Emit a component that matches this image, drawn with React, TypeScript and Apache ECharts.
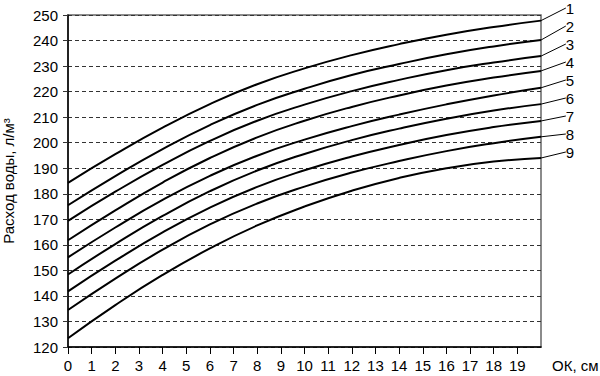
import React, { useEffect, useRef } from "react";
import * as echarts from "echarts";

const xValues = [0, 2, 4, 6, 8, 10, 12, 14, 16, 18, 20];
const curve1 = [184.3, 195.5, 205.9, 215.1, 222.9, 229.1, 234.3, 238.6, 242.3, 245.3, 247.8];
const curve2 = [175.5, 186.9, 197.5, 206.9, 214.8, 221.1, 226.5, 230.8, 234.6, 237.7, 240.2];
const curve3 = [169.4, 180.8, 191.3, 200.7, 208.6, 214.9, 220.2, 224.6, 228.4, 231.4, 233.9];
const curve4 = [161.8, 173.5, 184.4, 194.0, 202.1, 208.6, 214.0, 218.5, 222.4, 225.5, 228.1];
const curve5 = [155.1, 166.8, 177.6, 187.0, 194.9, 201.2, 206.5, 211.0, 215.0, 218.5, 221.5];
const curve6 = [148.4, 160.3, 171.3, 181.0, 189.1, 195.6, 201.0, 205.5, 209.4, 212.6, 215.1];
const curve7 = [141.8, 153.8, 164.9, 174.6, 182.7, 189.2, 194.6, 199.1, 203.0, 206.1, 208.5];
const curve8 = [134.5, 146.8, 158.1, 168.0, 176.2, 182.8, 188.3, 192.8, 196.7, 199.8, 202.3];
const curve9 = [123.4, 136.4, 148.2, 158.6, 167.6, 175.0, 181.2, 186.2, 190.0, 192.6, 194.0];
const curves = [curve1, curve2, curve3, curve4, curve5, curve6, curve7, curve8, curve9];
const curveNames = ["1", "2", "3", "4", "5", "6", "7", "8", "9"];
const xTicks = [0, 1, 2, 3, 4, 5, 6, 7, 8, 9, 10, 11, 12, 13, 14, 15, 16, 17, 18, 19];

const FONT = "'Liberation Sans', Arial, sans-serif";

export default function App() {
  const ref = useRef<HTMLDivElement>(null);
  useEffect(() => {
    if (!ref.current) return;
    const chart = echarts.init(ref.current, null, { renderer: "svg" });
    const last = xValues.length - 1;
    const series = curves.map((c, si) => ({
      type: "line",
      name: curveNames[si],
      smooth: true,
      showSymbol: true,
      symbol: "circle",
      symbolSize: 0.1,
      itemStyle: { color: "#000" },
      lineStyle: { color: "#000", width: 2 },
      label: { show: false },
      data: xValues.map((x, i) =>
        i === last
          ? {
              value: [x, c[i]],
              label: {
                show: true,
                formatter: curveNames[si],
                color: "#000",
                fontSize: 15,
                fontFamily: FONT,
              },
              labelLine: { show: true, lineStyle: { color: "#000", width: 1 } },
            }
          : { value: [x, c[i]] }
      ),
      labelLine: { show: true, lineStyle: { color: "#000", width: 1 } },
      labelLayout: (p: any) =>
        p.dataIndex === last
          ? { x: 570, y: 8 + 18 * si, align: "center", verticalAlign: "middle" }
          : {},
    }));
    chart.setOption({
      animation: false,
      grid: {
        left: 68,
        right: 59,
        top: 15,
        bottom: 29,
        show: true,
        borderColor: "#666",
        borderWidth: 1.5,
        containLabel: false,
        outerBoundsMode: "none",
      },
      xAxis: {
        type: "value",
        min: 0,
        max: 20,
        interval: 1,
        axisLine: { show: true, lineStyle: { color: "#000", width: 1.5 } },
        axisTick: { show: true, length: 7, customValues: xTicks, lineStyle: { color: "#000" } },
        axisLabel: {
          customValues: xTicks,
          color: "#000",
          fontSize: 15,
          margin: 11,
          fontFamily: FONT,
        },
        splitLine: { show: false },
        name: "ОК, см",
        nameLocation: "end",
        nameGap: 11,
        nameTextStyle: {
          color: "#000",
          fontSize: 15,
          fontFamily: FONT,
          align: "left",
          verticalAlign: "top",
          padding: [11, 0, 0, 0],
        },
      },
      yAxis: {
        type: "value",
        min: 120,
        max: 250,
        interval: 10,
        axisLine: { show: true, lineStyle: { color: "#000", width: 1.5 } },
        axisTick: { show: true, length: 5, lineStyle: { color: "#333" } },
        axisLabel: { color: "#000", fontSize: 15, margin: 10, fontFamily: FONT },
        splitLine: { show: true, lineStyle: { type: [4, 3], color: "#333", width: 1 } },
        name: "Расход воды, л/м³",
        nameLocation: "middle",
        nameGap: 52,
        nameRotate: 90,
        nameTextStyle: { color: "#000", fontSize: 15, fontFamily: FONT },
      },
      series,
    });
    return () => chart.dispose();
  }, []);
  return (
    <div
      ref={ref}
      style={{ position: "fixed", left: 0, top: 0, width: 600, height: 376, background: "#fff" }}
    />
  );
}
